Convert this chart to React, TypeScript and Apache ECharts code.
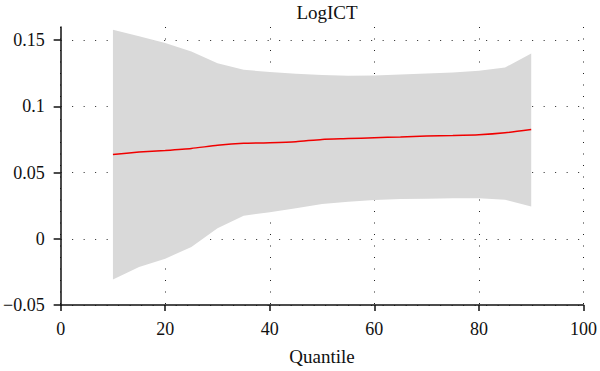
import React, { useEffect, useRef } from "react";
import * as echarts from "echarts";

const quantiles = [10, 15, 20, 25, 30, 35, 40, 45, 50, 55, 60, 65, 70, 75, 80, 85, 90];
const upperBound = [0.158, 0.153, 0.148, 0.1415, 0.1327, 0.1277, 0.126, 0.1247, 0.1237, 0.1232, 0.1234, 0.1241, 0.1249, 0.1257, 0.127, 0.1294, 0.14];
const lowerBound = [-0.0308, -0.0213, -0.015, -0.0062, 0.008, 0.0175, 0.02, 0.023, 0.0263, 0.028, 0.0293, 0.03, 0.0303, 0.0306, 0.0306, 0.0295, 0.0245];
const estimate = [0.0636, 0.0655, 0.0668, 0.0683, 0.0706, 0.0721, 0.0726, 0.0734, 0.0751, 0.0757, 0.0764, 0.077, 0.0776, 0.078, 0.0786, 0.0801, 0.0826];
const chartTitle = "LogICT";
const xAxisName = "Quantile";

const FONT = "Liberation Serif";

export default function App() {
  const ref = useRef<HTMLDivElement>(null);
  useEffect(() => {
    if (!ref.current) return;
    const chart = echarts.init(ref.current, null, { renderer: "svg" });
    const bandData = quantiles.map((q, i) => [q, lowerBound[i], upperBound[i]]);
    const lineData = quantiles.map((q, i) => [q, estimate[i]]);
    const dotted = { color: "#222", width: 1, type: [1, 10.5] as number[] };
    chart.setOption({
      animation: false,
      textStyle: { fontFamily: FONT },
      title: {
        text: chartTitle,
        left: 322,
        textAlign: "center",
        top: -2,
        textStyle: { fontFamily: FONT, fontSize: 19, fontWeight: "normal", color: "#111" },
      },
      grid: { left: 59, right: 14, top: 27, bottom: 63, containLabel: false },
      xAxis: {
        type: "value",
        min: 0,
        max: 100,
        interval: 20,
        name: xAxisName,
        nameLocation: "middle",
        nameGap: 42,
        nameTextStyle: { fontFamily: FONT, fontSize: 19, color: "#111" },
        axisLine: { show: true, onZero: false, lineStyle: { color: "#111", width: 1.5 } },
        axisTick: { show: true, length: 6, lineStyle: { color: "#111", width: 1.5 } },
        axisLabel: { fontFamily: FONT, fontSize: 18, color: "#111", margin: 15 },
        splitLine: { show: true, lineStyle: dotted },
      },
      yAxis: {
        type: "value",
        min: -0.05,
        max: 0.16,
        interval: 0.05,
        axisLine: { show: true, onZero: false, lineStyle: { color: "#111", width: 1.5 } },
        axisTick: { show: true, length: 7, lineStyle: { color: "#111", width: 1.5 } },
        axisLabel: {
          fontFamily: FONT,
          fontSize: 18,
          color: "#111",
          margin: 16,
          showMaxLabel: false,
          formatter: (v: number) => {
            const r = Math.round(v * 100) / 100;
            if (Math.abs(r - v) > 1e-9) return "";
            const s = String(r);
            return s.startsWith("-") ? "\u2212" + s.slice(1) : s;
          },
        },
        splitLine: { show: true, showMaxLine: false, lineStyle: dotted },
      },
      series: [
        {
          type: "custom",
          data: bandData,
          encode: { x: 0, y: [1, 2] },
          silent: true,
          z: 3,
          renderItem: (params: any, api: any) => {
            if (params.dataIndex !== 0) return null;
            const upper = bandData.map((d) => api.coord([d[0], d[2]]));
            const lower = bandData.map((d) => api.coord([d[0], d[1]])).reverse();
            return {
              type: "polygon",
              shape: { points: upper.concat(lower) },
              style: { fill: "#d9d9d9", stroke: "none" },
            };
          },
        },
        {
          type: "line",
          data: lineData,
          symbol: "none",
          smooth: 0.2,
          lineStyle: { color: "#f00000", width: 1.5 },
          z: 4,
        },
      ],
    });
    return () => chart.dispose();
  }, []);
  return <div ref={ref} style={{ width: 600, height: 371, position: "absolute", left: 0, top: 0 }} />;
}
